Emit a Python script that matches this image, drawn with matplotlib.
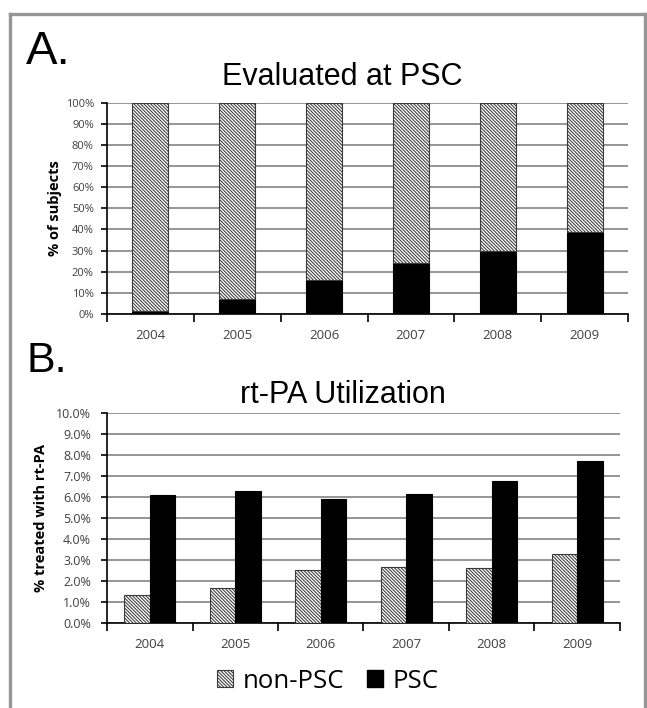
import matplotlib
matplotlib.use("Agg")
import matplotlib.pyplot as plt
from matplotlib.patches import Patch
from matplotlib.lines import Line2D

years = ["2004", "2005", "2006", "2007", "2008", "2009"]
# Panel A: % of subjects evaluated at PSC (stacked to 100%)
eval_psc = [1.6, 7.3, 16.0, 24.1, 30.0, 39.0]
eval_non_psc = [100 - v for v in eval_psc]
# Panel B: % treated with rt-PA
rtpa_non_psc = [1.32, 1.67, 2.50, 2.63, 2.59, 3.25]
rtpa_psc = [6.10, 6.27, 5.90, 6.14, 6.76, 7.71]

W, H = 647, 708
plt.rcParams['hatch.linewidth'] = 0.75
fig = plt.figure(figsize=(W / 100, H / 100), dpi=100)

TICKFONT = ['Open Sans', 'DejaVu Sans']
TITLEFONT = ['Liberation Sans', 'DejaVu Sans']
TXT = '#404040'
HATCH = '\\' * 10
HEDGE = '#3a3a3a'


def fx(px):
    return px / W


def fy(py):
    return 1 - py / H


def style_axis(ax, ypad):
    ax.set_xlim(-0.5, len(years) - 0.5)
    ax.spines['top'].set_visible(False)
    ax.spines['right'].set_visible(False)
    for s in ('left', 'bottom'):
        ax.spines[s].set_color('black')
        ax.spines[s].set_linewidth(1.2)
    ax.yaxis.grid(True, color='#8c8c8c', linewidth=1.3)
    ax.set_axisbelow(True)
    ax.set_xticks([i - 0.5 for i in range(len(years) + 1)])
    ax.set_xticklabels([])
    ax.set_xticks(range(len(years)), minor=True)
    ax.set_xticklabels(years, minor=True, fontfamily=TICKFONT, fontsize=9.5, color=TXT)
    ax.tick_params(axis='x', which='major', length=6, width=1.2, direction='out', color='black')
    ax.tick_params(axis='x', which='minor', length=0, pad=11)
    ax.tick_params(axis='y', length=4.5, width=1.2, direction='out', color='black', pad=ypad)


# Panel A
axA = fig.add_axes([fx(107), fy(314), fx(521), (314 - 102.7) / H])
x = list(range(len(years)))
axA.bar(x, eval_psc, width=0.415, color='black', edgecolor='black', linewidth=0.8, zorder=3)
axA.bar(x, eval_non_psc, bottom=eval_psc, width=0.415, color='white', edgecolor=HEDGE,
        hatch=HATCH, linewidth=0.8, zorder=3)
axA.set_ylim(0, 100)
axA.set_yticks(range(0, 101, 10))
axA.set_yticklabels([f"{v}%" for v in range(0, 101, 10)], fontfamily=TICKFONT, fontsize=8, color=TXT)
style_axis(axA, 5)
axA.set_ylabel('% of subjects', fontfamily=TICKFONT, fontsize=10.5, fontweight='bold', color='black')
axA.yaxis.set_label_coords((62 - 107) / 521, 0.5)

# Panel B
axB = fig.add_axes([fx(107), fy(622.7), fx(513), (622.7 - 412.7) / H])
bw = 0.3
axB.bar([i - bw / 2 for i in x], rtpa_non_psc, width=bw, color='white', edgecolor=HEDGE,
        hatch=HATCH, linewidth=0.8, zorder=3)
axB.bar([i + bw / 2 for i in x], rtpa_psc, width=bw, color='black', edgecolor='black',
        linewidth=0.8, zorder=3)
axB.set_ylim(0, 10)
axB.set_yticks(range(0, 11))
axB.set_yticklabels([f"{v:.1f}%" for v in range(0, 11)], fontfamily=TICKFONT, fontsize=9, color=TXT)
style_axis(axB, 7)
axB.set_ylabel('% treated with rt-PA', fontfamily=TICKFONT, fontsize=10.5, fontweight='bold', color='black')
axB.yaxis.set_label_coords((48 - 107) / 513, 0.5)

# Titles and panel letters
fig.text(fx(342), fy(85), 'Evaluated at PSC', fontfamily=TITLEFONT, fontsize=22,
         ha='center', va='baseline')
fig.text(fx(342.5), fy(403), 'rt-PA Utilization', fontfamily=TITLEFONT, fontsize=22,
         ha='center', va='baseline')
fig.text(fx(26), fy(64), 'A.', fontfamily=TITLEFONT, fontsize=34, ha='left', va='baseline')
fig.text(fx(26), fy(372), 'B.', fontfamily=TITLEFONT, fontsize=31, ha='left', va='baseline')

# Legend
handles = [Patch(facecolor='white', edgecolor=HEDGE, hatch=HATCH, linewidth=0.8, label='non-PSC'),
           Patch(facecolor='black', edgecolor='black', label='PSC')]
fig.legend(handles=handles, loc='center', bbox_to_anchor=(fx(328), fy(681)), ncol=2,
           frameon=False, prop={'family': TICKFONT, 'size': 18.5},
           handlelength=0.62, handleheight=0.62, handletextpad=0.39, columnspacing=0.86,
           borderaxespad=0, borderpad=0)

# Gray frame (open at bottom)
fc = '#969696'
lw = 2.4
fig.add_artist(Line2D([fx(10), fx(10)], [fy(13.5), fy(H + 5)], color=fc, lw=lw, transform=fig.transFigure))
fig.add_artist(Line2D([fx(10), fx(645)], [fy(13.5), fy(13.5)], color=fc, lw=lw, transform=fig.transFigure))
fig.add_artist(Line2D([fx(645), fx(645)], [fy(13.5), fy(H + 5)], color=fc, lw=lw, transform=fig.transFigure))

fig.savefig('out.png', dpi=100)
